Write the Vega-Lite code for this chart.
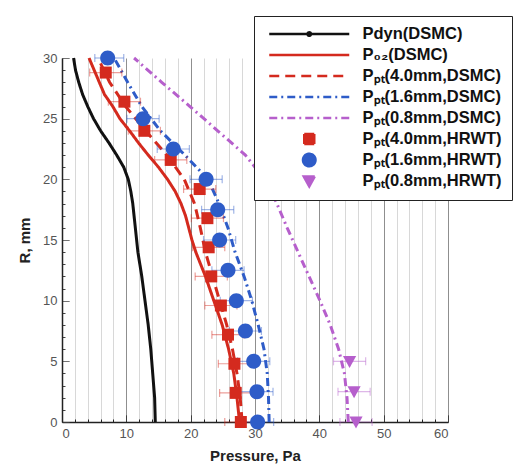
{
  "$schema": "https://vega.github.io/schema/vega-lite/v6.json",
  "width": 386,
  "height": 364,
  "padding": {"left": 17, "top": 15, "right": 0, "bottom": 5},
  "background": "white",
  "config": {
    "view": {"stroke": null},
    "font": "Liberation Sans",
    "axis": {"labelFont": "Liberation Sans", "titleFont": "Liberation Sans", "labelOverlap": false},
    "legend": {"symbolOpacity": 1}
  },
  "datasets": {
    "lines": [
      {"series": "Pdyn(DSMC)", "R": 30, "P": 1.8},
      {"series": "Pdyn(DSMC)", "R": 29, "P": 2.1},
      {"series": "Pdyn(DSMC)", "R": 28, "P": 2.6},
      {"series": "Pdyn(DSMC)", "R": 27, "P": 3.2},
      {"series": "Pdyn(DSMC)", "R": 26, "P": 4.0},
      {"series": "Pdyn(DSMC)", "R": 25, "P": 4.9},
      {"series": "Pdyn(DSMC)", "R": 24, "P": 6.0},
      {"series": "Pdyn(DSMC)", "R": 23, "P": 7.3},
      {"series": "Pdyn(DSMC)", "R": 22, "P": 8.5},
      {"series": "Pdyn(DSMC)", "R": 21, "P": 9.6},
      {"series": "Pdyn(DSMC)", "R": 20, "P": 10.3},
      {"series": "Pdyn(DSMC)", "R": 19, "P": 10.7},
      {"series": "Pdyn(DSMC)", "R": 18, "P": 11.0},
      {"series": "Pdyn(DSMC)", "R": 17, "P": 11.2},
      {"series": "Pdyn(DSMC)", "R": 16, "P": 11.4},
      {"series": "Pdyn(DSMC)", "R": 15, "P": 11.6},
      {"series": "Pdyn(DSMC)", "R": 14, "P": 11.8},
      {"series": "Pdyn(DSMC)", "R": 12, "P": 12.4},
      {"series": "Pdyn(DSMC)", "R": 10, "P": 12.9},
      {"series": "Pdyn(DSMC)", "R": 8, "P": 13.4},
      {"series": "Pdyn(DSMC)", "R": 6, "P": 13.8},
      {"series": "Pdyn(DSMC)", "R": 4, "P": 14.1},
      {"series": "Pdyn(DSMC)", "R": 2, "P": 14.4},
      {"series": "Pdyn(DSMC)", "R": 0, "P": 14.5},

      {"series": "P₀₂(DSMC)", "R": 30, "P": 4.2},
      {"series": "P₀₂(DSMC)", "R": 29, "P": 5.0},
      {"series": "P₀₂(DSMC)", "R": 28, "P": 5.8},
      {"series": "P₀₂(DSMC)", "R": 27, "P": 6.6},
      {"series": "P₀₂(DSMC)", "R": 26, "P": 7.9},
      {"series": "P₀₂(DSMC)", "R": 25, "P": 9.0},
      {"series": "P₀₂(DSMC)", "R": 24, "P": 10.5},
      {"series": "P₀₂(DSMC)", "R": 23, "P": 11.9},
      {"series": "P₀₂(DSMC)", "R": 22, "P": 13.4},
      {"series": "P₀₂(DSMC)", "R": 21, "P": 15.0},
      {"series": "P₀₂(DSMC)", "R": 20, "P": 16.4},
      {"series": "P₀₂(DSMC)", "R": 19, "P": 17.6},
      {"series": "P₀₂(DSMC)", "R": 18, "P": 18.5},
      {"series": "P₀₂(DSMC)", "R": 17, "P": 19.2},
      {"series": "P₀₂(DSMC)", "R": 16, "P": 19.7},
      {"series": "P₀₂(DSMC)", "R": 15, "P": 20.2},
      {"series": "P₀₂(DSMC)", "R": 14, "P": 20.8},
      {"series": "P₀₂(DSMC)", "R": 12, "P": 22.3},
      {"series": "P₀₂(DSMC)", "R": 10, "P": 23.6},
      {"series": "P₀₂(DSMC)", "R": 8, "P": 24.9},
      {"series": "P₀₂(DSMC)", "R": 6, "P": 25.9},
      {"series": "P₀₂(DSMC)", "R": 4, "P": 26.7},
      {"series": "P₀₂(DSMC)", "R": 2, "P": 27.2},
      {"series": "P₀₂(DSMC)", "R": 0, "P": 27.6},

      {"series": "Pₚₜ(4.0mm,DSMC)", "R": 30, "P": 5.6},
      {"series": "Pₚₜ(4.0mm,DSMC)", "R": 28, "P": 7.4},
      {"series": "Pₚₜ(4.0mm,DSMC)", "R": 26, "P": 9.9},
      {"series": "Pₚₜ(4.0mm,DSMC)", "R": 24, "P": 13.0},
      {"series": "Pₚₜ(4.0mm,DSMC)", "R": 22, "P": 16.3},
      {"series": "Pₚₜ(4.0mm,DSMC)", "R": 20, "P": 19.0},
      {"series": "Pₚₜ(4.0mm,DSMC)", "R": 18, "P": 20.6},
      {"series": "Pₚₜ(4.0mm,DSMC)", "R": 16, "P": 21.5},
      {"series": "Pₚₜ(4.0mm,DSMC)", "R": 14, "P": 22.3},
      {"series": "Pₚₜ(4.0mm,DSMC)", "R": 12, "P": 23.4},
      {"series": "Pₚₜ(4.0mm,DSMC)", "R": 10, "P": 24.5},
      {"series": "Pₚₜ(4.0mm,DSMC)", "R": 8, "P": 25.6},
      {"series": "Pₚₜ(4.0mm,DSMC)", "R": 6, "P": 26.5},
      {"series": "Pₚₜ(4.0mm,DSMC)", "R": 4, "P": 27.2},
      {"series": "Pₚₜ(4.0mm,DSMC)", "R": 2, "P": 27.7},
      {"series": "Pₚₜ(4.0mm,DSMC)", "R": 0, "P": 28.0},

      {"series": "Pₚₜ(1.6mm,DSMC)", "R": 30, "P": 8.1},
      {"series": "Pₚₜ(1.6mm,DSMC)", "R": 28, "P": 10.2},
      {"series": "Pₚₜ(1.6mm,DSMC)", "R": 26, "P": 12.4},
      {"series": "Pₚₜ(1.6mm,DSMC)", "R": 24, "P": 15.3},
      {"series": "Pₚₜ(1.6mm,DSMC)", "R": 22, "P": 19.1},
      {"series": "Pₚₜ(1.6mm,DSMC)", "R": 20, "P": 22.7},
      {"series": "Pₚₜ(1.6mm,DSMC)", "R": 18, "P": 24.4},
      {"series": "Pₚₜ(1.6mm,DSMC)", "R": 16, "P": 25.8},
      {"series": "Pₚₜ(1.6mm,DSMC)", "R": 14, "P": 26.9},
      {"series": "Pₚₜ(1.6mm,DSMC)", "R": 12, "P": 28.3},
      {"series": "Pₚₜ(1.6mm,DSMC)", "R": 10, "P": 29.5},
      {"series": "Pₚₜ(1.6mm,DSMC)", "R": 8, "P": 30.5},
      {"series": "Pₚₜ(1.6mm,DSMC)", "R": 6, "P": 31.4},
      {"series": "Pₚₜ(1.6mm,DSMC)", "R": 4, "P": 31.9},
      {"series": "Pₚₜ(1.6mm,DSMC)", "R": 2, "P": 32.1},
      {"series": "Pₚₜ(1.6mm,DSMC)", "R": 0, "P": 32.2},

      {"series": "Pₚₜ(0.8mm,DSMC)", "R": 30, "P": 11.2},
      {"series": "Pₚₜ(0.8mm,DSMC)", "R": 28, "P": 15.5},
      {"series": "Pₚₜ(0.8mm,DSMC)", "R": 26, "P": 19.9},
      {"series": "Pₚₜ(0.8mm,DSMC)", "R": 24, "P": 24.2},
      {"series": "Pₚₜ(0.8mm,DSMC)", "R": 22, "P": 28.5},
      {"series": "Pₚₜ(0.8mm,DSMC)", "R": 21, "P": 30.0},
      {"series": "Pₚₜ(0.8mm,DSMC)", "R": 20, "P": 31.3},
      {"series": "Pₚₜ(0.8mm,DSMC)", "R": 19, "P": 32.5},
      {"series": "Pₚₜ(0.8mm,DSMC)", "R": 18, "P": 33.4},
      {"series": "Pₚₜ(0.8mm,DSMC)", "R": 16, "P": 35.0},
      {"series": "Pₚₜ(0.8mm,DSMC)", "R": 14, "P": 36.7},
      {"series": "Pₚₜ(0.8mm,DSMC)", "R": 12, "P": 38.4},
      {"series": "Pₚₜ(0.8mm,DSMC)", "R": 10, "P": 40.1},
      {"series": "Pₚₜ(0.8mm,DSMC)", "R": 8, "P": 41.7},
      {"series": "Pₚₜ(0.8mm,DSMC)", "R": 6, "P": 43.0},
      {"series": "Pₚₜ(0.8mm,DSMC)", "R": 4, "P": 43.9},
      {"series": "Pₚₜ(0.8mm,DSMC)", "R": 2, "P": 44.3},
      {"series": "Pₚₜ(0.8mm,DSMC)", "R": 0, "P": 44.5}
    ],
    "pts": [
      {"series": "Pₚₜ(4.0mm,HRWT)", "R": 28.8, "P": 6.8, "lo": 4.3, "hi": 9.3},
      {"series": "Pₚₜ(4.0mm,HRWT)", "R": 26.4, "P": 9.7, "lo": 7.2, "hi": 12.2},
      {"series": "Pₚₜ(4.0mm,HRWT)", "R": 24.0, "P": 12.8, "lo": 10.3, "hi": 15.3},
      {"series": "Pₚₜ(4.0mm,HRWT)", "R": 21.6, "P": 16.9, "lo": 14.4, "hi": 19.4},
      {"series": "Pₚₜ(4.0mm,HRWT)", "R": 19.2, "P": 21.4, "lo": 18.9, "hi": 23.9},
      {"series": "Pₚₜ(4.0mm,HRWT)", "R": 16.8, "P": 22.6, "lo": 20.1, "hi": 25.1},
      {"series": "Pₚₜ(4.0mm,HRWT)", "R": 14.4, "P": 22.8, "lo": 20.3, "hi": 25.3},
      {"series": "Pₚₜ(4.0mm,HRWT)", "R": 12.0, "P": 23.2, "lo": 20.7, "hi": 25.7},
      {"series": "Pₚₜ(4.0mm,HRWT)", "R": 9.6, "P": 24.7, "lo": 22.2, "hi": 27.2},
      {"series": "Pₚₜ(4.0mm,HRWT)", "R": 7.2, "P": 25.8, "lo": 23.3, "hi": 28.3},
      {"series": "Pₚₜ(4.0mm,HRWT)", "R": 4.8, "P": 26.8, "lo": 24.3, "hi": 29.3},
      {"series": "Pₚₜ(4.0mm,HRWT)", "R": 2.4, "P": 27.0, "lo": 24.5, "hi": 29.5},
      {"series": "Pₚₜ(4.0mm,HRWT)", "R": 0.0, "P": 27.8, "lo": 25.3, "hi": 30.3},
      {"series": "Pₚₜ(1.6mm,HRWT)", "R": 30, "P": 7.1, "lo": 5.1, "hi": 9.6},
      {"series": "Pₚₜ(1.6mm,HRWT)", "R": 25, "P": 12.6, "lo": 10.1, "hi": 15.1},
      {"series": "Pₚₜ(1.6mm,HRWT)", "R": 22.5, "P": 17.3, "lo": 14.8, "hi": 19.8},
      {"series": "Pₚₜ(1.6mm,HRWT)", "R": 20, "P": 22.4, "lo": 19.9, "hi": 24.9},
      {"series": "Pₚₜ(1.6mm,HRWT)", "R": 17.5, "P": 24.2, "lo": 21.7, "hi": 26.7},
      {"series": "Pₚₜ(1.6mm,HRWT)", "R": 15, "P": 24.5, "lo": 22.0, "hi": 27.0},
      {"series": "Pₚₜ(1.6mm,HRWT)", "R": 12.5, "P": 25.8, "lo": 23.3, "hi": 28.3},
      {"series": "Pₚₜ(1.6mm,HRWT)", "R": 10, "P": 27.1, "lo": 24.6, "hi": 29.6},
      {"series": "Pₚₜ(1.6mm,HRWT)", "R": 7.5, "P": 28.5, "lo": 26.0, "hi": 31.0},
      {"series": "Pₚₜ(1.6mm,HRWT)", "R": 5, "P": 29.8, "lo": 27.3, "hi": 32.3},
      {"series": "Pₚₜ(1.6mm,HRWT)", "R": 2.5, "P": 30.3, "lo": 27.8, "hi": 32.8},
      {"series": "Pₚₜ(1.6mm,HRWT)", "R": 0, "P": 30.4, "lo": 27.9, "hi": 32.9},
      {"series": "Pₚₜ(0.8mm,HRWT)", "R": 5, "P": 44.7, "lo": 42.2, "hi": 47.2},
      {"series": "Pₚₜ(0.8mm,HRWT)", "R": 2.5, "P": 45.4, "lo": 42.9, "hi": 47.9},
      {"series": "Pₚₜ(0.8mm,HRWT)", "R": 0, "P": 45.7, "lo": 43.2, "hi": 48.2}
    ]
  },
  "layer": [
    {
      "data": {"name": "lines"},
      "mark": {"type": "line", "strokeWidth": 3},
      "encoding": {
        "x": {
          "field": "P", "type": "quantitative", "title": "Pressure, Pa",
          "scale": {"domain": [0, 60], "nice": false},
          "axis": {
            "values": [0,2,4,6,8,10,12,14,16,18,20,22,24,26,28,30,32,34,36,38,40,42,44,46,48,50,52,54,56,58,60],
            "tickCount": 100,
            "format": "d",
            "labelExpr": "datum.value % 10 === 0 ? datum.label : ''",
            "labelOverlap": false,
            "grid": true,
            "gridColor": {"condition": {"test": "datum.value % 10 === 0", "value": "#8f8f8f"}, "value": "#d8d8d8"},
            "gridWidth": 1,
            "domainColor": "#222222",
            "domainWidth": 1.5,
            "tickColor": "#222222",
            "tickSize": -7,
            "tickDash": {"condition": {"test": "datum.value % 10 === 0", "value": [1, 0]}, "value": [3, 30]},
            "labelPadding": 12,
            "labelFontSize": 13,
            "labelColor": "#555555",
            "titleFontSize": 15,
            "titleFontWeight": "bold",
            "titleColor": "#222222",
            "titlePadding": 8
          }
        },
        "y": {
          "field": "R", "type": "quantitative", "title": "R, mm",
          "scale": {"domain": [0, 30], "nice": false},
          "axis": {
            "values": [0,1,2,3,4,5,6,7,8,9,10,11,12,13,14,15,16,17,18,19,20,21,22,23,24,25,26,27,28,29,30],
            "tickCount": 100,
            "format": "d",
            "labelExpr": "datum.value % 5 === 0 ? datum.label : ''",
            "labelOverlap": false,
            "grid": false,
            "domainColor": "#222222",
            "domainWidth": 1.5,
            "tickColor": "#444444",
            "tickSize": -7,
            "tickDash": {"condition": {"test": "datum.value % 5 === 0", "value": [1, 0]}, "value": [3, 30]},
            "labelPadding": 12,
            "labelFontSize": 13,
            "labelColor": "#555555",
            "titleFontSize": 15,
            "titleFontWeight": "bold",
            "titleColor": "#222222",
            "titlePadding": 10
          }
        },
        "order": {"field": "R", "type": "quantitative"},
        "color": {
          "field": "series", "type": "nominal",
          "scale": {
            "domain": ["Pdyn(DSMC)", "P₀₂(DSMC)", "Pₚₜ(4.0mm,DSMC)", "Pₚₜ(1.6mm,DSMC)", "Pₚₜ(0.8mm,DSMC)", "Pₚₜ(4.0mm,HRWT)", "Pₚₜ(1.6mm,HRWT)", "Pₚₜ(0.8mm,HRWT)"],
            "range": ["#111111", "#d42a1e", "#d42a1e", "#2e5cc8", "#b65fcc", "#d42a1e", "#2e5cc8", "#b65fcc"]
          },
          "legend": {
            "title": null, "orient": "none", "legendX": 192, "legendY": -42,
            "fillColor": "white", "strokeColor": "#222222", "padding": 10,
            "labelFont": "Liberation Sans", "labelFontSize": 16.5, "labelFontWeight": "bold", "labelColor": "#111111",
            "labelLimit": 400, "symbolSize": 100, "rowPadding": 4, "clipHeight": 16,
            "symbolOffset": 37, "labelOffset": 45,
            "symbolStrokeWidth": 2.5, "symbolOpacity": 1
          }
        },
        "strokeDash": {
          "field": "series", "type": "nominal",
          "scale": {
            "domain": ["Pdyn(DSMC)", "P₀₂(DSMC)", "Pₚₜ(4.0mm,DSMC)", "Pₚₜ(1.6mm,DSMC)", "Pₚₜ(0.8mm,DSMC)", "Pₚₜ(4.0mm,HRWT)", "Pₚₜ(1.6mm,HRWT)", "Pₚₜ(0.8mm,HRWT)"],
            "range": [[1, 0], [1, 0], [10, 6], [8, 4, 2, 4], [8, 4, 2, 4], [1, 0], [1, 0], [1, 0]]
          },
          "legend": {"title": null, "orient": "none", "legendX": 192, "legendY": -42}
        }
      }
    },
    {
      "mark": {"type": "rule", "color": "#222222", "strokeWidth": 1.5},
      "encoding": {
        "x": {"datum": 60, "type": "quantitative"}
      }
    },
    {
      "data": {"name": "pts"},
      "mark": {"type": "rule", "strokeWidth": 1.2, "opacity": 0.45},
      "encoding": {
        "x": {"field": "lo", "type": "quantitative", "title": "Pressure, Pa"},
        "x2": {"field": "hi"},
        "y": {"field": "R", "type": "quantitative", "title": "R, mm"},
        "color": {"field": "series", "type": "nominal", "legend": {"title": null, "orient": "none", "legendX": 192, "legendY": -42}}
      }
    },
    {
      "data": {"name": "pts"},
      "mark": {"type": "tick", "orient": "vertical", "size": 8, "thickness": 1.2, "opacity": 0.45},
      "encoding": {
        "x": {"field": "lo", "type": "quantitative", "title": "Pressure, Pa"},
        "y": {"field": "R", "type": "quantitative", "title": "R, mm"},
        "color": {"field": "series", "type": "nominal", "legend": {"title": null, "orient": "none", "legendX": 192, "legendY": -42}}
      }
    },
    {
      "data": {"name": "pts"},
      "mark": {"type": "tick", "orient": "vertical", "size": 8, "thickness": 1.2, "opacity": 0.45},
      "encoding": {
        "x": {"field": "hi", "type": "quantitative", "title": "Pressure, Pa"},
        "y": {"field": "R", "type": "quantitative", "title": "R, mm"},
        "color": {"field": "series", "type": "nominal", "legend": {"title": null, "orient": "none", "legendX": 192, "legendY": -42}}
      }
    },
    {
      "data": {"name": "pts"},
      "mark": {"type": "point", "filled": true, "size": 144, "opacity": 1},
      "encoding": {
        "x": {"field": "P", "type": "quantitative", "title": "Pressure, Pa"},
        "y": {"field": "R", "type": "quantitative", "title": "R, mm"},
        "color": {"field": "series", "type": "nominal",
          "legend": {"title": null, "orient": "none", "legendX": 192, "legendY": -42}},
        "shape": {
          "field": "series", "type": "nominal",
          "scale": {
            "domain": ["Pdyn(DSMC)", "P₀₂(DSMC)", "Pₚₜ(4.0mm,DSMC)", "Pₚₜ(1.6mm,DSMC)", "Pₚₜ(0.8mm,DSMC)", "Pₚₜ(4.0mm,HRWT)", "Pₚₜ(1.6mm,HRWT)", "Pₚₜ(0.8mm,HRWT)"],
            "range": [
              "M-8,0H8M-0.35,0a0.35,0.35 0 1,0 0.7,0a0.35,0.35 0 1,0 -0.7,0",
              "M-8,0H8", "M-8,0H8", "M-8,0H8", "M-8,0H8",
              "M-1,-1H1V1H-1Z",
              "M-1.25,0a1.25,1.25 0 1,0 2.5,0a1.25,1.25 0 1,0 -2.5,0",
              "M-1.1,-0.9H1.1L0,1.1Z"
            ]
          },
          "legend": {"title": null, "orient": "none", "legendX": 192, "legendY": -42}
        }
      }
    }
  ]
}
